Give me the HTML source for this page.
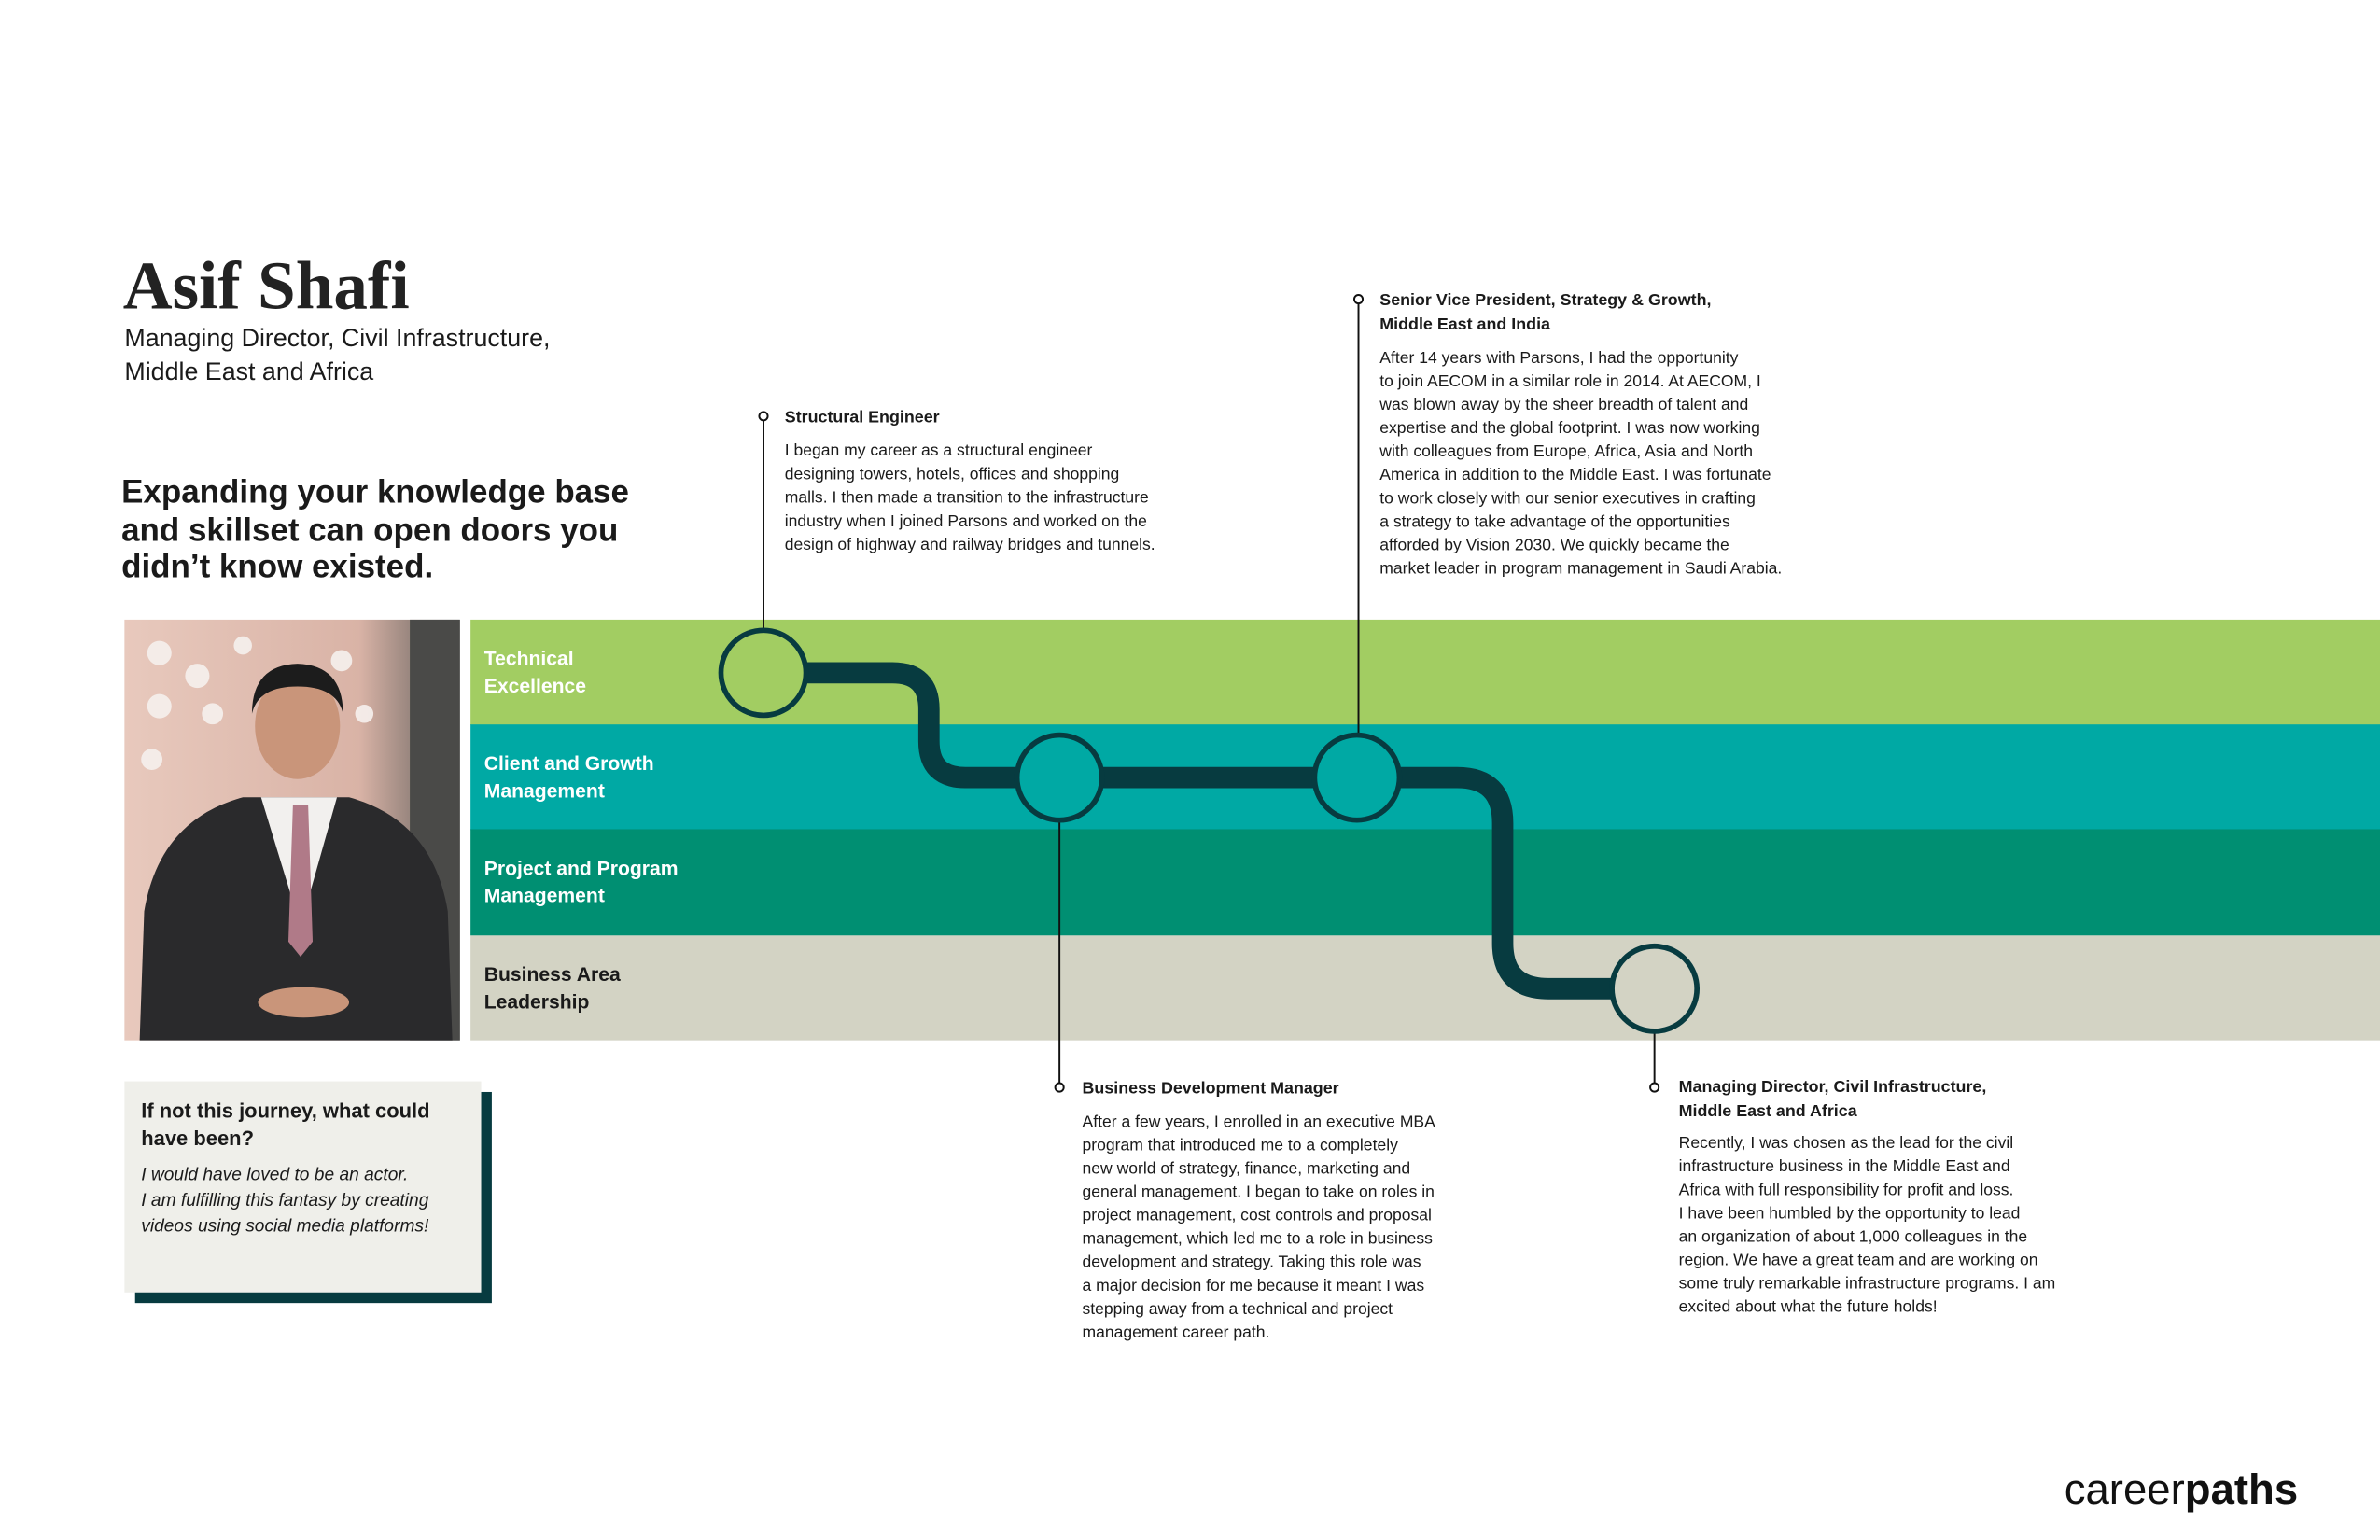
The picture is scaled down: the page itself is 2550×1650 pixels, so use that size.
<!DOCTYPE html>
<html><head><meta charset="utf-8"><style>
html,body{margin:0;padding:0;background:#fff;}
svg{display:block;}
text{font-family:"Liberation Sans",sans-serif;fill:#1a1a1a;}
.b{font-weight:bold;}
.t{font-size:11px;font-weight:bold;}
.p{font-size:10.8px;}
.bl{font-size:13px;font-weight:bold;fill:#fff;}
</style></head><body>
<svg width="2550" height="1650" viewBox="0 0 1568 1014" preserveAspectRatio="none" xmlns="http://www.w3.org/2000/svg">
<rect width="1568" height="1014" fill="#fff"/>
<text x="81" y="203" style="font-family:'Liberation Serif',serif;font-size:45px;font-weight:bold;fill:#222">Asif Shafi</text>
<text x="82" y="228" style="font-size:16.5px">Managing Director, Civil Infrastructure,</text>
<text x="82" y="250" style="font-size:16.5px">Middle East and Africa</text>
<text x="80" y="331" class="b" style="font-size:21.5px">Expanding your knowledge base</text>
<text x="80" y="356" class="b" style="font-size:21.5px">and skillset can open doors you</text>
<text x="80" y="380" class="b" style="font-size:21.5px">didn’t know existed.</text>

<!-- photo -->
<defs><linearGradient id="bg" x1="0" x2="1"><stop offset="0" stop-color="#e8c9bd"/><stop offset="0.7" stop-color="#d9b3a6"/><stop offset="1" stop-color="#5a5a58"/></linearGradient></defs>
<rect x="82" y="408" width="221" height="277" fill="url(#bg)"/>
<g fill="#f6f1ee" opacity="0.9">
<circle cx="105" cy="430" r="8"/><circle cx="130" cy="445" r="8"/><circle cx="105" cy="465" r="8"/><circle cx="140" cy="470" r="7"/><circle cx="100" cy="500" r="7"/><circle cx="225" cy="435" r="7"/><circle cx="240" cy="470" r="6"/><circle cx="160" cy="425" r="6"/>
</g>
<rect x="270" y="408" width="33" height="277" fill="#4a4a48"/>
<path d="M92 685 L95 600 Q105 540 160 525 L230 525 Q285 540 295 600 L298 685 Z" fill="#2a2a2c"/>
<path d="M172 525 L198 610 L222 525 Z" fill="#f2f0ee"/>
<path d="M193 530 L203 530 L206 620 L198 630 L190 620 Z" fill="#b07a88"/>
<ellipse cx="196" cy="478" rx="28" ry="35" fill="#c9957a"/>
<path d="M166 470 Q166 438 196 437 Q226 438 226 470 Q222 452 196 452 Q170 452 166 470Z" fill="#1c1c1c"/>
<ellipse cx="200" cy="660" rx="30" ry="10" fill="#c9957a"/>

<!-- bands -->
<rect x="310" y="408" width="1258" height="69.5" fill="#a2cd62"/>
<rect x="310" y="477" width="1258" height="69.5" fill="#00a9a4"/>
<rect x="310" y="546" width="1258" height="70" fill="#008f72"/>
<rect x="310" y="616" width="1258" height="69" fill="#d3d3c4"/>
<text x="319" y="438" class="bl">Technical</text><text x="319" y="456" class="bl">Excellence</text>
<text x="319" y="507" class="bl">Client and Growth</text><text x="319" y="525" class="bl">Management</text>
<text x="319" y="576" class="bl">Project and Program</text><text x="319" y="594" class="bl">Management</text>
<text x="319" y="646" class="bl" style="fill:#1a1a1a">Business Area</text><text x="319" y="664" class="bl" style="fill:#1a1a1a">Leadership</text>

<!-- path -->
<path d="M520 443 H588 Q612 443 612 467 V488 Q612 512 636 512 H960 Q990 512 990 542 V621 Q990 651 1020 651 H1080" fill="none" stroke="#073b40" stroke-width="14"/>
<!-- connectors -->
<g stroke="#111" stroke-width="1.2" fill="#fff">
<line x1="503" y1="277" x2="503" y2="415"/><circle cx="503" cy="274" r="2.8"/>
<line x1="895" y1="200" x2="895" y2="484"/><circle cx="895" cy="197" r="2.8"/>
<line x1="698" y1="540" x2="698" y2="713"/><circle cx="698" cy="716" r="2.8"/>
<line x1="1090" y1="679" x2="1090" y2="713"/><circle cx="1090" cy="716" r="2.8"/>
</g>
<g stroke="#073b40" stroke-width="3.5">
<circle cx="503" cy="443" r="28" fill="#a2cd62"/>
<circle cx="698" cy="512" r="28" fill="#00a9a4"/>
<circle cx="894" cy="512" r="28" fill="#00a9a4"/>
<circle cx="1090" cy="651" r="28" fill="#d3d3c4"/>
</g>

<!-- text blocks -->
<text x="517" y="278" class="t">Structural Engineer</text>
<g class="p"><text x="517" y="300" class="p">I began my career as a structural engineer</text>
<text x="517" y="315.5" class="p">designing towers, hotels, offices and shopping</text>
<text x="517" y="331" class="p">malls. I then made a transition to the infrastructure</text>
<text x="517" y="346.5" class="p">industry when I joined Parsons and worked on the</text>
<text x="517" y="362" class="p">design of highway and railway bridges and tunnels.</text></g>

<text x="909" y="201" class="t">Senior Vice President, Strategy &amp; Growth,</text>
<text x="909" y="217" class="t">Middle East and India</text>
<text x="909" y="239" class="p">After 14 years with Parsons, I had the opportunity</text>
<text x="909" y="254.4" class="p">to join AECOM in a similar role in 2014. At AECOM, I</text>
<text x="909" y="269.8" class="p">was blown away by the sheer breadth of talent and</text>
<text x="909" y="285.2" class="p">expertise and the global footprint. I was now working</text>
<text x="909" y="300.6" class="p">with colleagues from Europe, Africa, Asia and North</text>
<text x="909" y="316" class="p">America in addition to the Middle East. I was fortunate</text>
<text x="909" y="331.4" class="p">to work closely with our senior executives in crafting</text>
<text x="909" y="346.8" class="p">a strategy to take advantage of the opportunities</text>
<text x="909" y="362.2" class="p">afforded by Vision 2030. We quickly became the</text>
<text x="909" y="377.6" class="p">market leader in program management in Saudi Arabia.</text>

<text x="713" y="720" class="t">Business Development Manager</text>
<text x="713" y="742" class="p">After a few years, I enrolled in an executive MBA</text>
<text x="713" y="757.4" class="p">program that introduced me to a completely</text>
<text x="713" y="772.8" class="p">new world of strategy, finance, marketing and</text>
<text x="713" y="788.2" class="p">general management. I began to take on roles in</text>
<text x="713" y="803.6" class="p">project management, cost controls and proposal</text>
<text x="713" y="819" class="p">management, which led me to a role in business</text>
<text x="713" y="834.4" class="p">development and strategy. Taking this role was</text>
<text x="713" y="849.8" class="p">a major decision for me because it meant I was</text>
<text x="713" y="865.2" class="p">stepping away from a technical and project</text>
<text x="713" y="880.6" class="p">management career path.</text>

<text x="1106" y="719" class="t">Managing Director, Civil Infrastructure,</text>
<text x="1106" y="735" class="t">Middle East and Africa</text>
<text x="1106" y="756" class="p">Recently, I was chosen as the lead for the civil</text>
<text x="1106" y="771.4" class="p">infrastructure business in the Middle East and</text>
<text x="1106" y="786.8" class="p">Africa with full responsibility for profit and loss.</text>
<text x="1106" y="802.2" class="p">I have been humbled by the opportunity to lead</text>
<text x="1106" y="817.6" class="p">an organization of about 1,000 colleagues in the</text>
<text x="1106" y="833" class="p">region. We have a great team and are working on</text>
<text x="1106" y="848.4" class="p">some truly remarkable infrastructure programs. I am</text>
<text x="1106" y="863.8" class="p">excited about what the future holds!</text>

<!-- box -->
<rect x="89" y="719" width="235" height="139" fill="#073b40"/>
<rect x="82" y="712" width="235" height="139" fill="#efefea"/>
<text x="93" y="736" class="b" style="font-size:13.5px">If not this journey, what could</text>
<text x="93" y="754" class="b" style="font-size:13.5px">have been?</text>
<text x="93" y="777" style="font-size:11.8px;font-style:italic">I would have loved to be an actor.</text>
<text x="93" y="794" style="font-size:11.8px;font-style:italic">I am fulfilling this fantasy by creating</text>
<text x="93" y="811" style="font-size:11.8px;font-style:italic">videos using social media platforms!</text>

<text x="1360" y="990" style="font-size:28px;fill:#111">career<tspan font-weight="bold">paths</tspan></text>
</svg>
</body></html>
